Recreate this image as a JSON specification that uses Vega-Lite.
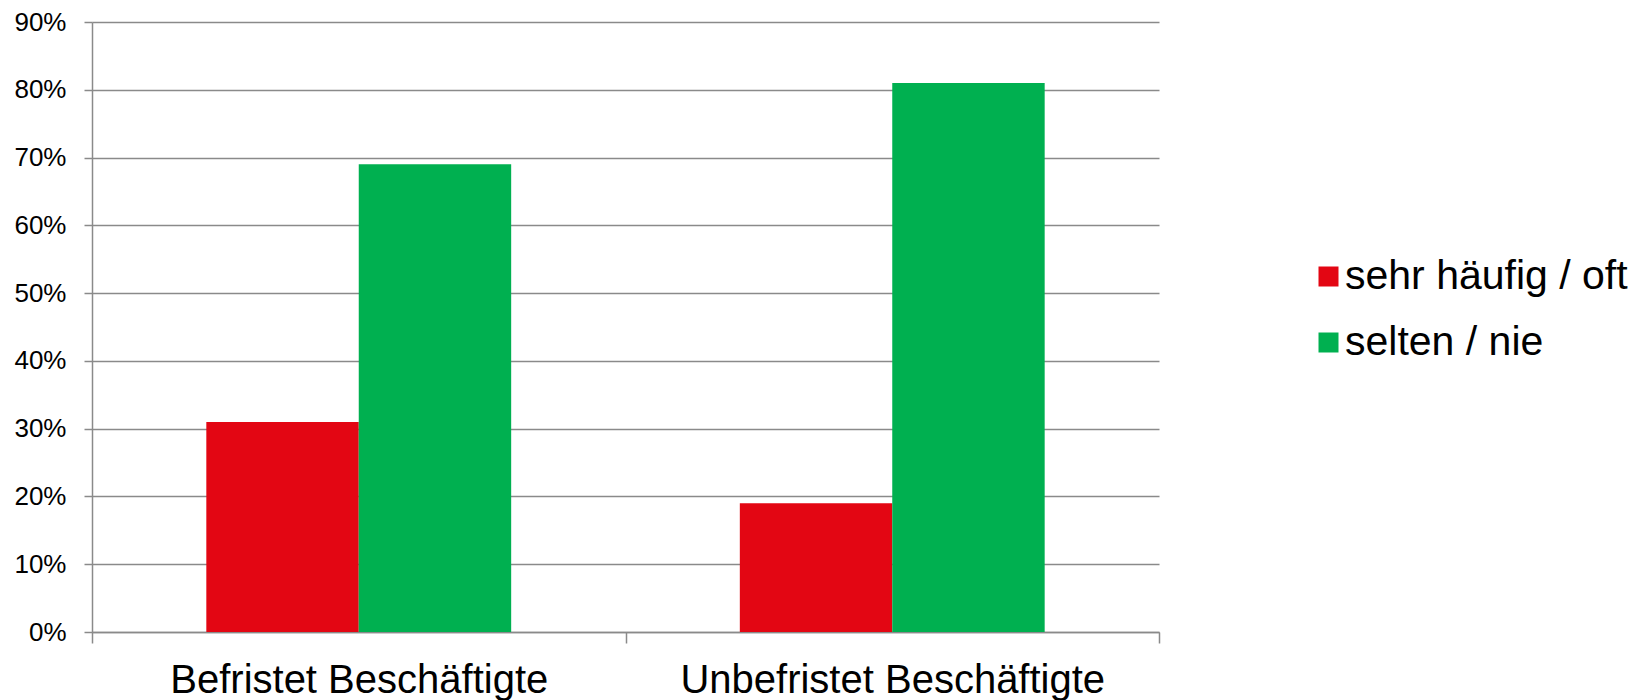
{
  "$schema": "https://vega.github.io/schema/vega-lite/v6.json",
  "width": 1067,
  "height": 610,
  "autosize": {"type": "none"},
  "padding": {"left": 92, "top": 22, "right": 479, "bottom": 68},
  "background": "white",
  "config": {
    "view": {"stroke": null},
    "font": "Liberation Sans"
  },
  "data": {
    "values": [
      {"gruppe": "Befristet Beschäftigte", "antwort": "sehr häufig / oft", "anteil": 0.31},
      {"gruppe": "Befristet Beschäftigte", "antwort": "selten / nie", "anteil": 0.69},
      {"gruppe": "Unbefristet Beschäftigte", "antwort": "sehr häufig / oft", "anteil": 0.19},
      {"gruppe": "Unbefristet Beschäftigte", "antwort": "selten / nie", "anteil": 0.81}
    ]
  },
  "mark": {"type": "bar"},
  "encoding": {
    "x": {
      "field": "gruppe",
      "type": "nominal",
      "sort": null,
      "scale": {"paddingInner": 0, "paddingOuter": 0},
      "axis": {
        "title": null,
        "labelAngle": 0,
        "labelFontSize": 40,
        "labelColor": "black",
        "labelPadding": 17,
        "labelLimit": 600,
        "tickBand": "extent",
        "tickSize": 11,
        "tickWidth": 1.5,
        "domainColor": "#8a8a8a",
        "domainWidth": 1.5,
        "tickColor": "#8a8a8a",
        "grid": false
      }
    },
    "xOffset": {
      "field": "antwort",
      "sort": null,
      "scale": {"paddingInner": 0, "paddingOuter": 0.75}
    },
    "y": {
      "field": "anteil",
      "type": "quantitative",
      "scale": {"domain": [0, 0.9], "nice": false},
      "axis": {
        "title": null,
        "values": [0, 0.1, 0.2, 0.3, 0.4, 0.5, 0.6, 0.7, 0.8, 0.9],
        "format": ".0%",
        "labelFontSize": 26,
        "labelColor": "black",
        "labelPadding": 18,
        "tickSize": 8,
        "tickWidth": 1.5,
        "tickColor": "#8a8a8a",
        "domainColor": "#8a8a8a",
        "domainWidth": 1.5,
        "grid": true,
        "gridColor": "#8a8a8a",
        "gridWidth": 1.5
      }
    },
    "color": {
      "field": "antwort",
      "type": "nominal",
      "sort": null,
      "scale": {"range": ["#E30613", "#00B050"]},
      "legend": {
        "title": null,
        "orient": "none",
        "legendX": 1216,
        "legendY": 234,
        "padding": 0,
        "symbolType": "square",
        "symbolSize": 400,
        "symbolStrokeWidth": 0,
        "symbolOpacity": 1,
        "labelFontSize": 41,
        "labelColor": "black",
        "labelOffset": -4,
        "rowPadding": 24,
        "labelLimit": 400
      }
    }
  }
}
